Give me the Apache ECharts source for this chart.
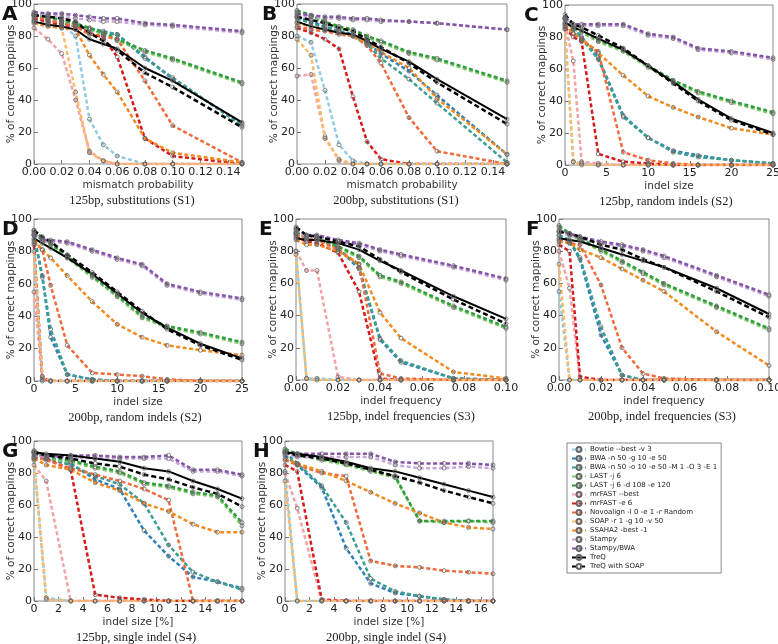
<!DOCTYPE html>
<html lang="en">
<head>
<meta charset="UTF-8">
<title>Read mapper accuracy</title>
<script src="https://cdn.jsdelivr.net/npm/echarts@6/dist/echarts.min.js"></script>
<style>
  * { margin: 0; padding: 0 }
  html, body { width: 100%; height: 100%; background: #fff; }
  #main { width: 778px; height: 644px; }
</style>
</head>
<body>
<div id="main"></div>
<script>
var tools = [
  'Bowtie --best -v 3',
  'BWA -n 50 -g 10 -e 50',
  'BWA -n 50 -o 10 -e 50 -M 1 -O 3 -E 1',
  'LAST -j 6',
  'LAST -j 6 -d 108 -e 120',
  'mrFAST --best',
  'mrFAST -e 6',
  'Novoalign -l 0 -e 1 -r Random',
  'SOAP -r 1 -g 10 -v 50',
  'SSAHA2 -best -1',
  'Stampy',
  'Stampy/BWA',
  'TreQ',
  'TreQ with SOAP'
];
var colors = ['#93cbe3', '#2c7fb8', '#3a9e92', '#86c96e', '#2e9e3c', '#f3a3a6', '#d7191c',
  '#f06a3c', '#fdbb6a', '#f28a1e', '#c7a8d8', '#8554a8', '#000000', '#000000'];

// x positions of the measured points
var xSubst = [0, 0.01, 0.02, 0.03, 0.04, 0.05, 0.06, 0.08, 0.10, 0.15];
var xIndel = [0, 1, 2, 4, 7, 10, 13, 16, 20, 25];
var xFreq = [0, 0.005, 0.01, 0.02, 0.03, 0.04, 0.05, 0.075, 0.10];
var xSingle = [0, 1, 3, 5, 7, 9, 11, 13, 15, 17];

// % of correct mappings, one row per tool (same order as tools)
var valsA = [
  [90, 88, 87, 80, 28, 12, 5, 0, 0, 0],
  [93, 90, 88, 86, 84, 82, 81, 67, 53, 25],
  [93, 91, 89, 87, 85, 83, 81, 66, 54, 24],
  [93, 91, 89, 87, 84, 81, 77, 70, 65, 50],
  [94, 92, 90, 88, 85, 82, 78, 71, 66, 51],
  [85, 78, 69, 40, 8, 2, 0, 0, 0, 0],
  [91, 89, 87, 86, 82, 79, 67, 16, 5, 0],
  [92, 90, 88, 86, 81, 80, 78, 52, 24, 1],
  [89, 87, 85, 45, 7, 2, 0, 0, 0, 0],
  [88, 86, 85, 84, 68, 56, 45, 16, 7, 1],
  [94, 93, 92, 91, 90, 89, 89, 87, 86, 82],
  [95, 94, 94, 93, 92, 91, 91, 88, 87, 83],
  [89, 87, 86, 84, 78, 75, 72, 60, 52, 26],
  [93, 92, 91, 89, 82, 77, 71, 57, 48, 23]
];
var valsB = [
  [80, 76, 46, 12, 2, 0, 0, 0, 0, 0],
  [92, 89, 86, 83, 81, 76, 69, 58, 43, 6],
  [91, 88, 85, 83, 80, 75, 66, 53, 38, 1],
  [95, 92, 88, 85, 83, 79, 76, 69, 65, 51],
  [96, 93, 89, 86, 84, 80, 77, 70, 66, 52],
  [55, 56, 17, 2, 0, 0, 0, 0, 0, 0],
  [85, 82, 78, 72, 42, 14, 3, 0, 0, 0],
  [86, 84, 83, 81, 80, 74, 63, 29, 8, 0],
  [78, 68, 16, 3, 0, 0, 0, 0, 0, 0],
  [88, 86, 84, 82, 80, 76, 70, 60, 41, 6],
  [93, 92, 91, 91, 90, 90, 89, 89, 88, 84],
  [94, 93, 92, 92, 91, 91, 90, 89, 88, 84],
  [89, 86, 84, 82, 81, 77, 72, 64, 53, 28],
  [92, 90, 88, 85, 83, 78, 73, 63, 51, 25]
];
var valsC = [
  [85, 2, 1, 0, 0, 0, 0, 0, 0, 0],
  [92, 85, 80, 67, 31, 17, 9, 6, 3, 1],
  [92, 85, 79, 66, 30, 17, 8, 5, 3, 1],
  [91, 85, 83, 77, 71, 61, 52, 45, 39, 32],
  [92, 86, 84, 78, 72, 62, 53, 46, 40, 33],
  [88, 65, 2, 1, 0, 0, 0, 0, 0, 0],
  [86, 80, 77, 7, 2, 1, 0, 0, 0, 0],
  [87, 82, 78, 71, 8, 3, 1, 0, 0, 0],
  [85, 2, 0, 0, 0, 0, 0, 0, 0, 0],
  [88, 82, 79, 70, 56, 43, 36, 30, 23, 19],
  [91, 87, 87, 87, 87, 81, 79, 72, 70, 66],
  [92, 88, 88, 88, 88, 82, 80, 73, 71, 67],
  [89, 86, 84, 79, 72, 62, 52, 41, 29, 20],
  [94, 88, 86, 81, 73, 62, 51, 40, 28, 19]
];
var valsD = [
  [85, 0, 0, 0, 0, 0, 0, 0, 0, 0],
  [90, 65, 27, 4, 1, 0, 0, 0, 0, 0],
  [90, 64, 32, 4, 1, 0, 0, 0, 0, 0],
  [92, 87, 84, 76, 64, 52, 39, 33, 29, 23],
  [93, 88, 85, 77, 65, 53, 40, 34, 30, 24],
  [55, 1, 0, 0, 0, 0, 0, 0, 0, 0],
  [84, 2, 0, 0, 0, 0, 0, 0, 0, 0],
  [86, 81, 59, 22, 5, 4, 3, 1, 0, 0],
  [80, 3, 0, 0, 0, 0, 0, 0, 0, 0],
  [87, 81, 76, 65, 49, 35, 27, 22, 19, 16],
  [90, 86, 86, 85, 80, 75, 71, 59, 54, 50],
  [91, 87, 87, 86, 81, 76, 72, 60, 55, 51],
  [88, 85, 82, 76, 66, 54, 42, 33, 23, 14],
  [93, 89, 86, 78, 67, 55, 43, 32, 22, 13]
];
var valsE = [
  [80, 1, 1, 0, 0, 0, 0, 0, 0],
  [91, 88, 88, 82, 69, 25, 11, 1, 0],
  [91, 88, 88, 82, 70, 26, 12, 1, 0],
  [91, 88, 87, 82, 76, 64, 60, 45, 32],
  [92, 89, 88, 83, 77, 65, 61, 46, 33],
  [80, 68, 68, 2, 0, 0, 0, 0, 0],
  [89, 86, 85, 79, 55, 1, 0, 0, 0],
  [90, 88, 87, 81, 72, 4, 1, 0, 0],
  [78, 1, 0, 0, 0, 0, 0, 0, 0],
  [87, 84, 84, 80, 72, 42, 26, 5, 1],
  [93, 89, 89, 86, 84, 80, 77, 70, 62],
  [94, 90, 90, 87, 85, 81, 78, 71, 63],
  [88, 87, 87, 85, 81, 74, 68, 52, 38],
  [95, 90, 89, 86, 83, 75, 67, 50, 35]
];
var valsF = [
  [55, 0, 0, 0, 0, 0, 0, 0, 0],
  [90, 86, 75, 28, 3, 0, 0, 0, 0],
  [90, 87, 76, 33, 3, 0, 0, 0, 0],
  [95, 90, 87, 80, 73, 66, 59, 45, 31],
  [96, 91, 88, 81, 74, 67, 60, 46, 32],
  [80, 57, 0, 0, 0, 0, 0, 0, 0],
  [84, 80, 2, 0, 0, 0, 0, 0, 0],
  [87, 85, 84, 59, 20, 4, 1, 0, 0],
  [72, 0, 0, 0, 0, 0, 0, 0, 0],
  [86, 85, 81, 76, 69, 62, 55, 30, 9],
  [92, 90, 88, 85, 83, 80, 76, 64, 52],
  [93, 91, 89, 86, 84, 81, 77, 65, 53],
  [88, 87, 86, 82, 78, 74, 70, 57, 41],
  [92, 91, 89, 84, 81, 75, 70, 55, 39]
];
var valsG = [
  [88, 2, 0, 0, 0, 0, 0, 0, 0, 0],
  [93, 89, 86, 76, 70, 44, 28, 15, 12, 8],
  [93, 89, 85, 78, 73, 61, 35, 18, 12, 7],
  [93, 89, 87, 83, 80, 73, 71, 67, 65, 47],
  [94, 90, 88, 84, 81, 74, 72, 68, 66, 49],
  [85, 75, 0, 0, 0, 0, 0, 0, 0, 0],
  [90, 89, 82, 4, 2, 1, 0, 0, 0, 0],
  [90, 88, 83, 79, 75, 70, 63, 0, 0, 0],
  [89, 1, 0, 0, 0, 0, 0, 0, 0, 0],
  [89, 85, 82, 74, 69, 61, 56, 48, 43, 43],
  [91, 90, 90, 89, 89, 89, 89, 81, 81, 78],
  [92, 91, 91, 91, 90, 90, 91, 82, 82, 79],
  [93, 92, 91, 89, 87, 83, 81, 75, 70, 64],
  [93, 91, 89, 86, 84, 79, 76, 71, 67, 59]
];
var valsH = [
  [81, 0, 0, 0, 0, 0, 0, 0, 0, 0],
  [91, 85, 71, 33, 11, 5, 3, 1, 0, 0],
  [93, 86, 72, 49, 14, 6, 3, 1, 0, 0],
  [94, 91, 88, 85, 81, 77, 50, 49, 50, 49],
  [95, 92, 89, 86, 82, 78, 50, 50, 50, 50],
  [80, 58, 0, 0, 0, 0, 0, 0, 0, 0],
  [85, 81, 1, 0, 0, 0, 0, 0, 0, 0],
  [88, 85, 80, 78, 25, 22, 21, 19, 18, 17],
  [75, 0, 0, 0, 0, 0, 0, 0, 0, 0],
  [89, 86, 81, 75, 68, 61, 55, 49, 46, 45],
  [92, 90, 90, 90, 90, 85, 83, 83, 84, 83],
  [93, 92, 92, 92, 92, 87, 86, 86, 86, 85],
  [93, 92, 90, 87, 83, 81, 77, 73, 69, 65],
  [93, 91, 89, 86, 82, 78, 74, 69, 65, 61]
];

var panels = [
  { letter: 'A', x: xSubst, vals: valsA, max: 0.15, step: 0.02, dec: 2, xName: 'mismatch probability',
    caption: '125bp, substitutions (S1)', box: [34, 4, 208, 160], lx: 2, cx: 132 },
  { letter: 'B', x: xSubst, vals: valsB, max: 0.15, step: 0.02, dec: 2, xName: 'mismatch probability',
    caption: '200bp, substitutions (S1)', box: [297, 4, 210, 160], lx: 262, cx: 396 },
  { letter: 'C', x: xIndel, vals: valsC, max: 25, step: 5, dec: 0, xName: 'indel size',
    caption: '125bp, random indels (S2)', box: [565, 5, 208, 160], lx: 524, cx: 666 },
  { letter: 'D', x: xIndel, vals: valsD, max: 25, step: 5, dec: 0, xName: 'indel size',
    caption: '200bp, random indels (S2)', box: [34, 219, 208, 162], lx: 2, cx: 135 },
  { letter: 'E', x: xFreq, vals: valsE, max: 0.10, step: 0.02, dec: 2, xName: 'indel frequency',
    caption: '125bp, indel frequencies (S3)', box: [296, 219, 210, 161], lx: 259, cx: 401 },
  { letter: 'F', x: xFreq, vals: valsF, max: 0.10, step: 0.02, dec: 2, xName: 'indel frequency',
    caption: '200bp, indel frequencies (S3)', box: [559, 219, 210, 161], lx: 526, cx: 662 },
  { letter: 'G', x: xSingle, vals: valsG, max: 17, step: 2, dec: 0, xName: 'indel size [%]',
    caption: '125bp, single indel (S4)', box: [34, 441, 208, 160], lx: 2, cx: 136 },
  { letter: 'H', x: xSingle, vals: valsH, max: 17, step: 2, dec: 0, xName: 'indel size [%]',
    caption: '200bp, single indel (S4)', box: [285, 441, 208, 160], lx: 253, cx: 386 }
];

var sans = 'DejaVu Sans';
var grids = [], xAxes = [], yAxes = [], series = [], graphics = [];

panels.forEach(function (p, i) {
  var b = p.box;
  grids.push({
    left: b[0], top: b[1], width: b[2], height: b[3],
    show: true, borderColor: '#888', borderWidth: 1,
    outerBoundsMode: 'none', containLabel: false
  });
  xAxes.push({
    type: 'value', gridIndex: i, min: 0, max: p.max, interval: p.step,
    name: p.xName, nameLocation: 'middle', nameGap: 16, nameMoveOverlap: false,
    nameTextStyle: { fontFamily: sans, fontSize: 10.5, color: '#333' },
    axisLine: { show: false },
    axisTick: { inside: true, length: 4, lineStyle: { color: '#777' } },
    splitLine: { show: false },
    axisLabel: {
      fontFamily: sans, fontSize: 11, color: '#222', margin: 3,
      showMaxLabel: (p.max / p.step) % 1 < 1e-6 || (p.max / p.step) % 1 > 1 - 1e-6,
      formatter: function (v) { return v.toFixed(p.dec); }
    }
  });
  yAxes.push({
    type: 'value', gridIndex: i, min: 0, max: 100, interval: 20,
    name: '% of correct mappings', nameLocation: 'middle', nameGap: 17, nameMoveOverlap: false,
    nameTextStyle: { fontFamily: sans, fontSize: 10.5, color: '#333' },
    axisLine: { show: false },
    axisTick: { show: true, inside: true, length: 4, lineStyle: { color: '#777' } },
    splitLine: { show: false },
    axisLabel: { fontFamily: sans, fontSize: 11, color: '#222', margin: 2 }
  });
  p.vals.forEach(function (v, k) {
    var lt = k === 12 ? 'solid' : (k === 13 ? [5, 3] : [4, 2.5]);
    series.push({
      name: tools[k], type: 'line', xAxisIndex: i, yAxisIndex: i,
      data: p.x.map(function (x, j) { return [x, v[j]]; }),
      symbol: 'circle', symbolSize: 4, showAllSymbol: true,
      itemStyle: { color: 'rgba(0,0,0,0)', borderColor: '#666', borderWidth: 0.8 },
      lineStyle: { color: colors[k], width: k === 12 ? 2 : 2.5, type: lt },
      emphasis: { disabled: true },
      z: 2
    });
  });
  graphics.push({
    type: 'text', left: p.lx, top: b[1] + 1,
    style: { text: p.letter, font: 'bold 20px "DejaVu Sans"', fill: '#111' }
  });
  graphics.push({
    type: 'text', x: p.cx, y: b[1] + b[3] + 37,
    style: { text: p.caption, font: '12.5px "Liberation Serif"', fill: '#222', align: 'center', verticalAlign: 'middle' }
  });
});

var chart = echarts.init(document.getElementById('main'));
chart.setOption({
  animation: false,
  backgroundColor: '#fff',
  grid: grids,
  xAxis: xAxes,
  yAxis: yAxes,
  legend: {
    data: tools, orient: 'vertical', left: 567, top: 443,
    padding: [3, 4, 3, 4], itemWidth: 14, itemHeight: 6, itemGap: 2,
    borderColor: '#888', borderWidth: 1, borderRadius: 0, backgroundColor: '#fff',
    selectedMode: false,
    textStyle: { fontFamily: sans, fontSize: 7, lineHeight: 7, color: '#222', padding: [0, 0, 0, -1] }
  },
  graphic: graphics,
  series: series
});
</script>
</body>
</html>
